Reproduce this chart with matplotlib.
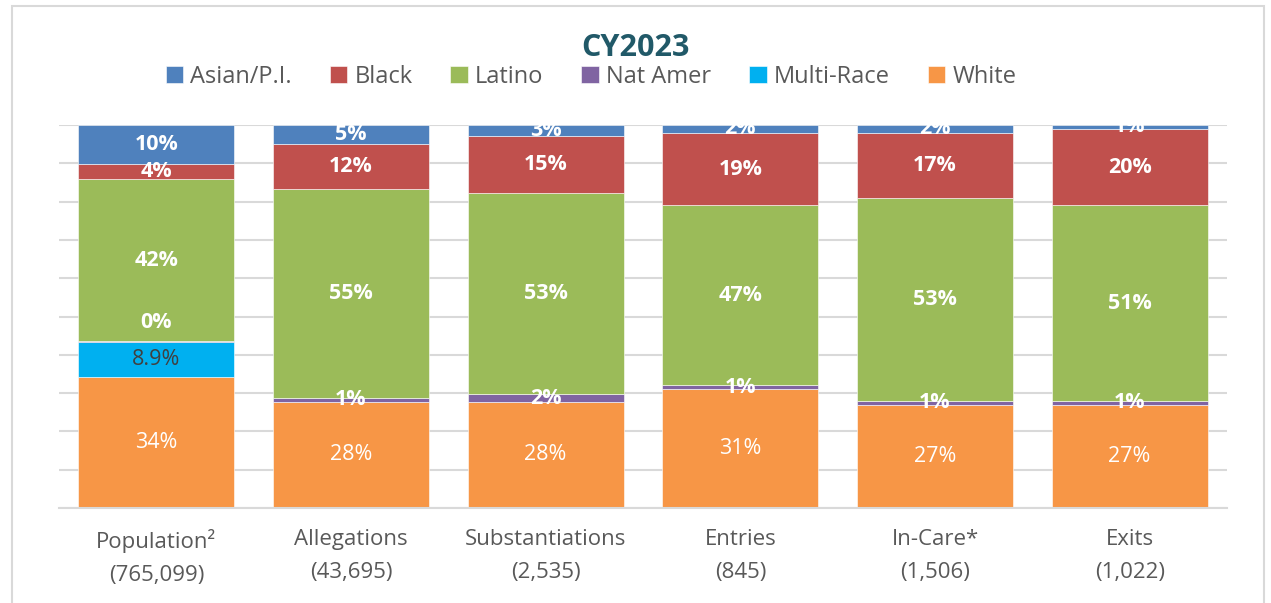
import matplotlib.pyplot as plt
import numpy as np
from matplotlib.patches import Rectangle

plt.rcParams["font.family"] = ["Open Sans", "DejaVu Sans"]

categories = ["Population²\n(765,099)", "Allegations\n(43,695)", "Substantiations\n(2,535)",
              "Entries\n(845)", "In-Care*\n(1,506)", "Exits\n(1,022)"]

# stacked bottom to top
white = [34, 28, 28, 31, 27, 27]
multi_race = [8.9, 0, 0, 0, 0, 0]
nat_amer = [0.3, 1, 2, 1, 1, 1]
latino = [42, 55, 53, 47, 53, 51]
black = [4, 12, 15, 19, 17, 20]
asian = [10, 5, 3, 2, 2, 1]

series = [
    ("White", white, "#f79646"),
    ("Multi-Race", multi_race, "#00b0f0"),
    ("Nat Amer", nat_amer, "#8064a2"),
    ("Latino", latino, "#9bbb59"),
    ("Black", black, "#c0504d"),
    ("Asian/P.I.", asian, "#4f81bd"),
]
legend_order = ["Asian/P.I.", "Black", "Latino", "Nat Amer", "Multi-Race", "White"]

fig = plt.figure(figsize=(12.71, 6.03), dpi=100)
ax = fig.add_axes([59 / 1271, 95 / 603, 1168 / 1271, 383 / 603])

x = np.arange(len(categories))
totals = np.sum([s[1] for s in series], axis=0)
bottom = np.zeros(len(categories))
handles = {}
for name, vals, color in series:
    h = np.array(vals) / totals * 100
    bars = ax.bar(x, h, 0.8, bottom=bottom, color=color, edgecolor="white",
                  linewidth=0.4, label=name, zorder=2)
    handles[name] = bars
    for i, v in enumerate(vals):
        if name == "Multi-Race" and v == 0:
            continue
        if name == "Multi-Race":
            txt, col, wt = f"{v:.1f}%", "#404040", "normal"
        elif name == "White":
            txt, col, wt = f"{v:.0f}%", "white", "normal"
        else:
            txt, col, wt = f"{v:.0f}%", "white", "bold"
        y = bottom[i] + h[i] / 2
        if name == "Nat Amer" and i == 0:
            y += 5
        ax.text(x[i], y, txt, ha="center", va="center", color=col,
                fontsize=15.5, fontweight=wt, zorder=3)
    bottom += h

ax.set_xlim(-0.5, len(categories) - 0.5)
ax.set_ylim(0, 100)
ax.set_yticks(np.arange(0, 101, 10))
ax.set_yticklabels([])
ax.tick_params(axis="y", length=0)
ax.tick_params(axis="x", length=0, pad=15)
ax.set_xticks(x)
ax.set_xticklabels(categories, fontsize=16, color="#595959", linespacing=1.75)
ax.grid(axis="y", color="#d9d9d9", linewidth=1.5, zorder=0)
for s in ["top", "left", "right"]:
    ax.spines[s].set_visible(False)
ax.spines["bottom"].set_color("#d9d9d9")
ax.spines["bottom"].set_linewidth(1.5)

fig.text(0.5, 1 - 48 / 603, "CY2023", ha="center", va="center", fontsize=22,
         fontweight="bold", color="#215968")
fig.legend([handles[n] for n in legend_order], legend_order, loc="center",
           bbox_to_anchor=(591 / 1271, 1 - 77 / 603), ncol=6, frameon=False,
           fontsize=17, labelcolor="#595959", handlelength=0.75, handleheight=0.75,
           handletextpad=0.3, columnspacing=1.6)

fig.patches.append(Rectangle((12 / 1271, -0.1), 1252 / 1271, 1.1 - 6 / 603,
                             transform=fig.transFigure, fill=False,
                             edgecolor="#d9d9d9", linewidth=1.5))

fig.savefig("out.png", dpi=100)
